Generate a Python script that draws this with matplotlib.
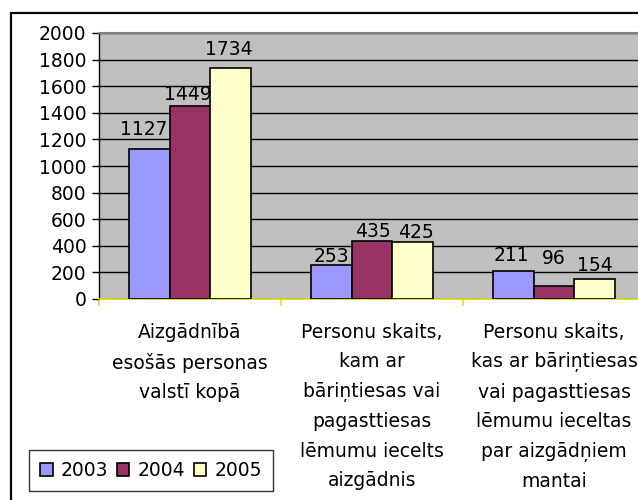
import matplotlib
matplotlib.use("Agg")
import matplotlib.pyplot as plt
from matplotlib.patches import Rectangle
import numpy as np

plt.rcParams['font.family'] = ['DejaVu Sans']

categories = [
    "Aizgādnībā\nesošās personas\nvalstī kopā",
    "Personu skaits,\nkam ar\nbāriņtiesas vai\npagasttiesas\nlēmumu iecelts\naizgādnis",
    "Personu skaits,\nkas ar bāriņtiesas\nvai pagasttiesas\nlēmumu ieceltas\npar aizgādņiem\nmantai",
]
series_names = ["2003", "2004", "2005"]
values_2003 = [1127, 253, 211]
values_2004 = [1449, 435, 96]
values_2005 = [1734, 425, 154]
y_ticks = [0, 200, 400, 600, 800, 1000, 1200, 1400, 1600, 1800, 2000]

colors = ["#9999FF", "#993366", "#FFFFCC"]
# label offsets in pixels (dx, dy of label centre above bar top)
label_dx = [[-6, 0, -2], [-2, 1, 0], [-1.5, 4, 0]]
label_dy = [[19.5, 9, 15.7], [12, 10, 28], [19, 9.5, 13.5]]

FS = 13.5
W, H = 638, 500
fig = plt.figure(figsize=(W / 100, H / 100), dpi=100)
fig.patch.set_facecolor("white")

ax = fig.add_axes([99 / W, 1 - 299 / H, 546 / W, 266 / H])
ax.set_facecolor("#C0C0C0")
ax.set_xlim(0, 3)
ax.set_ylim(0, 2000)

all_series = [values_2003, values_2004, values_2005]
bw = 0.222
x = np.arange(len(categories)) + 0.5
px2pt = 72 / 100
for i, (vals, name, col) in enumerate(zip(all_series, series_names, colors)):
    xs = x + (i - 1) * bw
    ax.bar(xs, vals, width=bw, color=col, edgecolor="black", linewidth=1.2,
           label=name, zorder=3)
    for j, (xx, v) in enumerate(zip(xs, vals)):
        ax.annotate(str(v), (xx, v), xytext=(label_dx[i][j] * px2pt, label_dy[i][j] * px2pt),
                    textcoords="offset points", ha="center", va="center",
                    fontsize=FS, color="black", zorder=5, annotation_clip=False)

ax.set_yticks(y_ticks)
ax.set_yticklabels([str(t) for t in y_ticks], fontsize=FS)
ax.yaxis.grid(True, color="black", linewidth=1.0, zorder=1)
ax.set_axisbelow(True)
ax.tick_params(axis="y", length=5, width=1, color="black", pad=4, direction="out")

ax.set_xticks(x)
ax.set_xticklabels(categories, fontsize=FS, linespacing=1.7, va="top")
ax.tick_params(axis="x", which="major", length=0, pad=17)
ax.set_xticks([0, 1, 2, 3], minor=True)
ax.tick_params(axis="x", which="minor", length=5, width=1.2, color="#E8E800", direction="out")

ax.spines["left"].set_color("black")
ax.spines["left"].set_linewidth(1.0)
ax.spines["bottom"].set_color("#D8D800")
ax.spines["bottom"].set_linewidth(1.2)
ax.spines["top"].set_color("#808080")
ax.spines["top"].set_linewidth(1.5)
ax.spines["right"].set_color("#808080")

leg = fig.legend(loc="center", bbox_to_anchor=(151 / W, 1 - 470.5 / H), ncol=3,
                 fontsize=FS, frameon=True, fancybox=False, handlelength=0.65,
                 handleheight=0.65, handletextpad=0.45, columnspacing=0.45,
                 borderpad=0.6, borderaxespad=0)
leg.get_frame().set_edgecolor("black")
leg.get_frame().set_linewidth(1.0)

fig.add_artist(Rectangle((11 / W, -0.1), 1.2, 1 - 13 / H + 0.1, transform=fig.transFigure,
                         fill=False, edgecolor="black", linewidth=1.6, clip_on=False))

fig.savefig("out.png", dpi=100)
